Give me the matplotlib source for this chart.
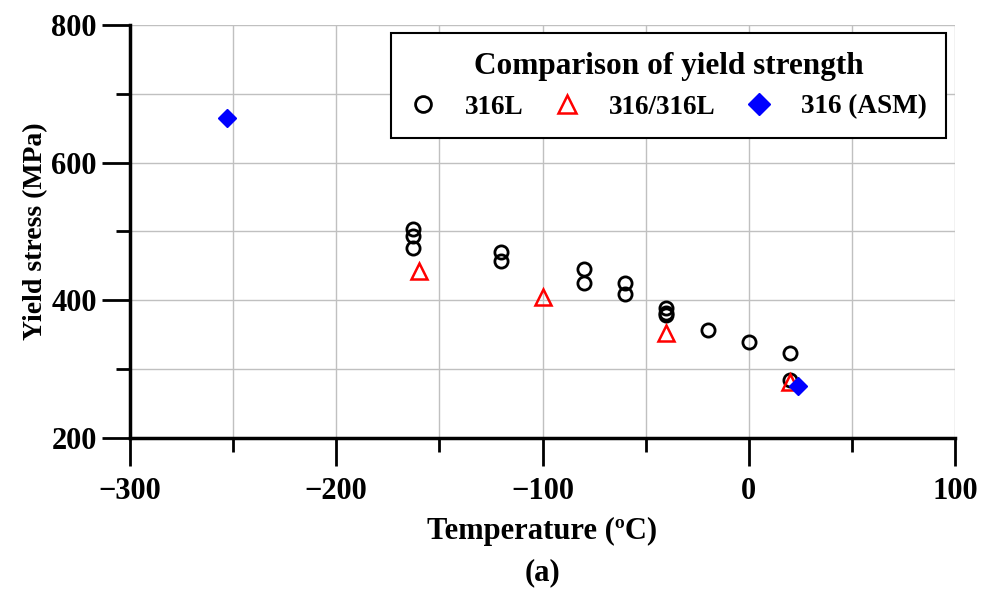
import matplotlib
matplotlib.use("Agg")
import matplotlib.pyplot as plt
from matplotlib.ticker import MultipleLocator

plt.rcParams['font.family'] = ['Liberation Serif', 'DejaVu Serif']
plt.rcParams['font.weight'] = 'bold'

# 316L
t_316l = [-163, -163, -163, -120, -120, -80, -80, -60, -60, -40, -40, -40, -20, 0, 20, 20]
y_316l = [504, 494, 476, 470, 457, 446, 425, 425, 409, 389, 382, 379, 357, 340, 323, 284]
# 316/316L
t_mix = [-160, -100, -40, 20]
y_mix = [443, 405, 352, 281]
# 316 (ASM)
t_asm = [-253, 24]
y_asm = [665, 275]

fig = plt.figure(figsize=(9.86, 5.9), dpi=100)
ax = fig.add_axes([130/986, 1 - 438/590, 825/986, 413/590])

ax.plot(t_316l, y_316l, 'o', mfc='none', mec='black', ms=9.5, mew=2, label='316L', zorder=3)
ax.plot(t_mix, y_mix, '^', mfc='none', mec='red', ms=11, mew=1.8, label='316/316L', zorder=3)
ax.plot(t_asm, y_asm, 'D', color='blue', ms=9.5, label='316 (ASM)', zorder=4)

ax.set_xlim(-300, 100)
ax.set_ylim(200, 800)
ax.xaxis.set_major_locator(MultipleLocator(100))
ax.xaxis.set_minor_locator(MultipleLocator(50))
ax.yaxis.set_major_locator(MultipleLocator(200))
ax.yaxis.set_minor_locator(MultipleLocator(100))
ax.grid(True, which='both', color='#c0c0c0', lw=1.0)
ax.set_axisbelow(True)

for s in ['top', 'right']:
    ax.spines[s].set_visible(False)
for s in ['left', 'bottom']:
    ax.spines[s].set_linewidth(2.5)

ax.set_xticks([-300, -200, -100, 0, 100])
ax.set_xticklabels(['\u2212300', '\u2212200', '\u2212100', '0', '100'])
ax.tick_params(which='major', direction='out', length=20, width=2, labelsize=22)
ax.tick_params(axis='x', which='major', pad=8)
ax.tick_params(axis='y', which='major', pad=4)
ax.tick_params(which='minor', direction='out', length=10, width=2)

ax.set_xlabel('Temperature (\u00baC)', fontsize=22, fontweight='bold', labelpad=8)
ax.set_ylabel('Yield stress (MPa)', fontsize=20, fontweight='bold', labelpad=2)

leg = ax.legend(title='Comparison of yield strength', ncol=3, loc='upper right',
                bbox_to_anchor=(1 - 9/825, 1 - 8/413), borderaxespad=0, fontsize=19.5,
                title_fontproperties={'size': 22.5, 'weight': 'bold'},
                frameon=True, fancybox=False, edgecolor='black', framealpha=1,
                markerscale=1.2, columnspacing=1.1, handletextpad=1.05,
                handlelength=1.0, borderpad=0.7)
leg.get_frame().set_linewidth(1.5)

fig.text(542/986, 1 - 573/590, '(a)', ha='center', va='center',
         fontsize=22, fontweight='bold')

fig.savefig('out.png', dpi=100)
